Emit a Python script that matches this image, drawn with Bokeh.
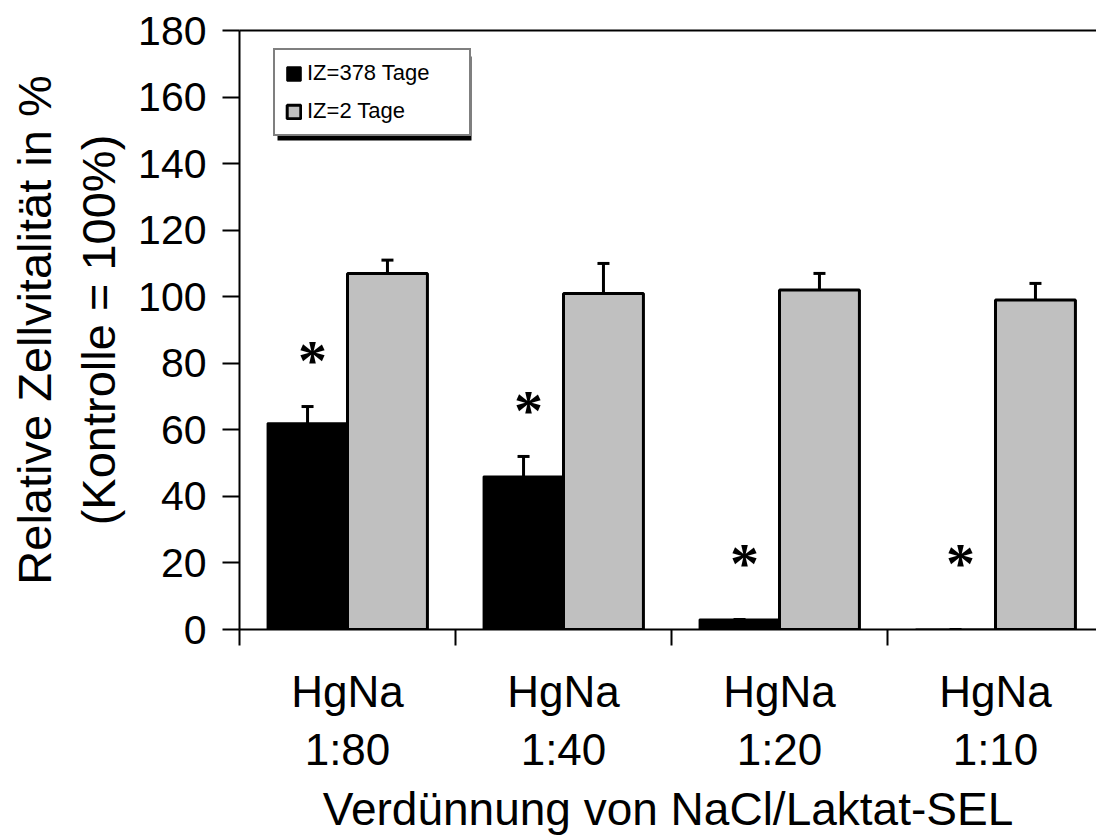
import numpy as np
from bokeh.plotting import figure
from bokeh.models import (ColumnDataSource, Range1d, LinearAxis, FixedTicker,
                          Whisker, TeeHead, Legend, LegendItem, BoxAnnotation)
from bokeh.core.properties import value
from bokeh.embed import file_html
from bokeh.resources import INLINE

# --- data -------------------------------------------------------------
dilutions = ["HgNa\n1:80", "HgNa\n1:40", "HgNa\n1:20", "HgNa\n1:10"]
iz378_mean = [62, 46, 3, 0]       # IZ = 378 Tage
iz378_err = [5, 6, 0, 0]
iz2_mean = [107, 101, 102, 99]    # IZ = 2 Tage
iz2_err = [4, 9, 5, 5]
star_y = [83, 68, 22, 22]         # significance markers
star_text = ["*", "*", "*", "*"]
y_ticks = [0, 20, 40, 60, 80, 100, 120, 140, 160, 180]

FONT = "Liberation Sans"
BAR_W = 0.37

idx = np.arange(len(dilutions))
x_black = idx + 0.5 - BAR_W / 2
x_gray = idx + 0.5 + BAR_W / 2

src_black = ColumnDataSource(dict(x=x_black, top=iz378_mean,
                                  upper=np.array(iz378_mean) + np.array(iz378_err)))
src_gray = ColumnDataSource(dict(x=x_gray, top=iz2_mean,
                                 upper=np.array(iz2_mean) + np.array(iz2_err)))
src_star = ColumnDataSource(dict(x=x_black, y=star_y, t=star_text))

p = figure(width=1096, height=838, output_backend="svg", toolbar_location=None,
           x_range=Range1d(0, 857 / 216), y_range=Range1d(0, 180),
           x_axis_type=None, y_axis_type=None,
           min_border_left=239, min_border_right=0, min_border_top=30,
           min_border_bottom=209)
p.outline_line_color = None
p.grid.visible = False
p.background_fill_color = "white"

# bars
r_black = p.vbar(x="x", top="top", width=BAR_W, source=src_black,
                 fill_color="black", line_color="black", line_width=2)
r_gray = p.vbar(x="x", top="top", width=BAR_W, source=src_gray,
                fill_color="#C0C0C0", line_color="black", line_width=3)

# upper error bars
for src in (src_black, src_gray):
    w = Whisker(base="x", lower="top", upper="upper", source=src,
                dimension="height", line_color="black", line_width=3,
                upper_head=TeeHead(size=12, line_width=3, line_color="black"),
                lower_head=None)
    p.add_layout(w)

# significance asterisks
p.text(x="x", y="y", text="t", source=src_star, text_font=value("Liberation Serif"),
       text_font_size="58px", text_font_style="bold", text_align="center",
       text_baseline="alphabetic", x_offset=5, y_offset=7, text_color="black")

# y axis
yax = LinearAxis(ticker=FixedTicker(ticks=y_ticks))
yax.axis_line_width = 2
yax.major_tick_line_width = 2
yax.major_tick_out = 17
yax.major_tick_in = 0
yax.minor_tick_out = 0
yax.minor_tick_in = 0
yax.major_label_standoff = 16
yax.major_label_text_font = FONT
yax.major_label_text_font_size = "41px"
yax.major_label_text_color = "black"
yax.axis_label = "Relative Zellvitalität in %\n(Kontrolle = 100%)"
yax.axis_label_text_font = FONT
yax.axis_label_text_font_size = "47px"
yax.axis_label_text_font_style = "normal"
yax.axis_label_text_color = "black"
yax.axis_label_standoff = 10
p.add_layout(yax, "left")

# x axis: category boundary ticks (no labels)
bounds = [0, 1, 2, 3, 4]
xax = LinearAxis(ticker=FixedTicker(ticks=bounds))
xax.major_label_overrides = {b: "" for b in bounds}
xax.axis_line_width = 2
xax.major_tick_line_width = 2
xax.major_tick_out = 16
xax.major_tick_in = 0
xax.minor_tick_out = 0
xax.minor_tick_in = 0
xax.major_label_text_color = None
xax.major_label_text_font_size = "1px"
xax.major_label_standoff = 0
p.add_layout(xax, "below")

# x axis: category labels and title
xlab = LinearAxis(ticker=FixedTicker(ticks=list(idx + 0.5)))
xlab.major_label_overrides = {float(i + 0.5): d for i, d in enumerate(dilutions)}
xlab.axis_line_color = None
xlab.major_tick_line_color = None
xlab.minor_tick_line_color = None
xlab.major_tick_out = 0
xlab.major_label_standoff = 21
xlab.major_label_text_font = FONT
xlab.major_label_text_font_size = "44px"
xlab.major_label_text_line_height = 1.2
xlab.major_label_text_color = "black"
xlab.axis_label = "Verdünnung von NaCl/Laktat-SEL"
xlab.axis_label_text_font = FONT
xlab.axis_label_text_font_size = "46px"
xlab.axis_label_text_font_style = "normal"
xlab.axis_label_text_color = "black"
xlab.axis_label_standoff = 6
p.add_layout(xlab, "below")

# top border line
top = LinearAxis(ticker=FixedTicker(ticks=[]))
top.axis_line_width = 2
top.major_tick_out = 0
top.minor_tick_out = 0
top.major_label_text_color = None
top.major_label_text_font_size = "1px"
top.major_label_standoff = 0
p.add_layout(top, "above")

# legend box: position in screen pixels from the frame's lower-left corner
LEG_X, LEG_Y = 34, 493
LEG_W, LEG_H = 194, 84
SHADOW = 4

shadow = BoxAnnotation(left=LEG_X + SHADOW, right=LEG_X + LEG_W + SHADOW,
                       bottom=LEG_Y - SHADOW, top=LEG_Y + LEG_H - SHADOW,
                       left_units="screen", right_units="screen",
                       bottom_units="screen", top_units="screen",
                       fill_color="black", fill_alpha=1.0, line_color=None)
p.add_layout(shadow)

legend = Legend(items=[LegendItem(label="IZ=378 Tage", renderers=[r_black]),
                       LegendItem(label="IZ=2 Tage", renderers=[r_gray])],
                location=(LEG_X, LEG_Y), orientation="vertical")
legend.padding = 10
legend.spacing = 12
legend.margin = 0
legend.glyph_width = 17
legend.glyph_height = 17
legend.label_standoff = 5
legend.label_width = LEG_W - 20 - 17 - 5
legend.label_text_font = FONT
legend.label_text_font_size = "22px"
legend.label_text_color = "black"
legend.border_line_color = "black"
legend.border_line_width = 2
legend.background_fill_color = "white"
legend.background_fill_alpha = 1.0
p.add_layout(legend, "center")

open("out.html", "w").write(file_html(p, INLINE))
